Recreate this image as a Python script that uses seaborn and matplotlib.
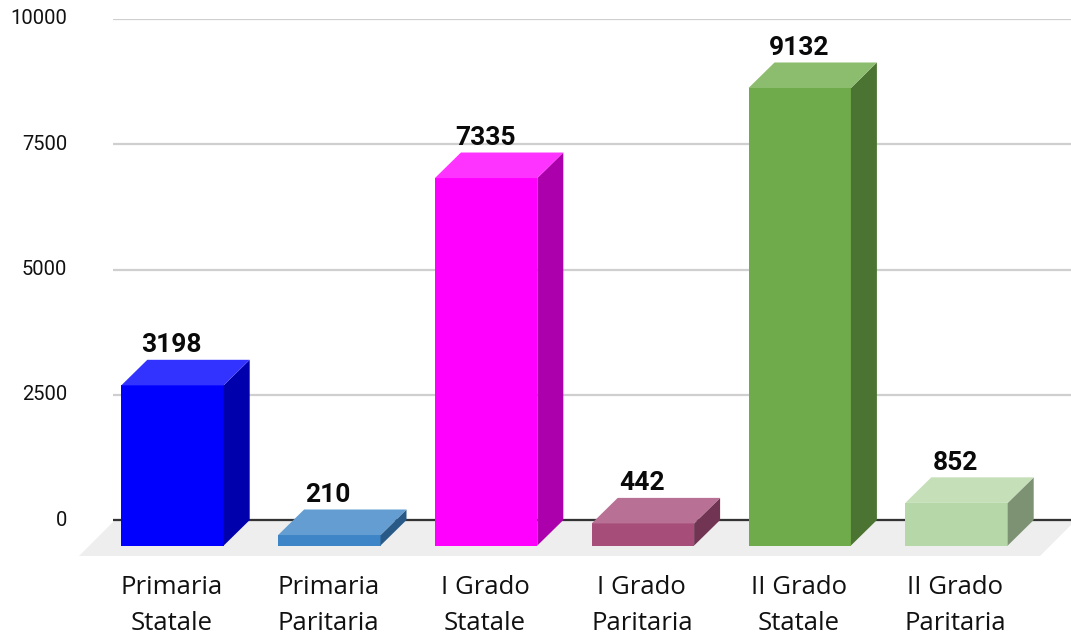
import matplotlib
matplotlib.use('Agg')
import matplotlib.pyplot as plt
import matplotlib.colors as mcolors
from matplotlib.transforms import ScaledTranslation
import seaborn as sns
import pandas as pd

categories = ["Primaria\nStatale", "Primaria\nParitaria", "I Grado\nStatale", "I Grado\nParitaria", "II Grado\nStatale", "II Grado\nParitaria"]
values = [3198, 210, 7335, 442, 9132, 852]
colors = ["#0000ff", "#3d85c6", "#ff00ff", "#a64d79", "#6fab4a", "#b6d7a8"]
yticks = [0, 2500, 5000, 7500, 10000]

sns.set_theme(style="white", rc={'figure.figsize': (10.71, 6.36), 'figure.dpi': 100})
plt.rcParams['font.family'] = ['Open Sans', 'DejaVu Sans']

# fake depth of the bars
step = 156.8
depth_x = 26 / step
depth_y = 510


def shade(color, factor):
    return tuple(c * factor for c in mcolors.to_rgb(color))


def tint(color, amount):
    return tuple(c + (1 - c) * amount for c in mcolors.to_rgb(color))


df = pd.DataFrame({"category": categories, "value": values})

fig = plt.figure()
ax = fig.add_axes([113 / 1071, 1 - 556 / 636, 958 / 1071, 537 / 636])
sns.barplot(data=df, x="category", y="value", hue="category", palette=colors, dodge=False,
            legend=False, width=102.4 / step, bottom=-depth_y, saturation=1, ax=ax, zorder=3,
            linewidth=0)

ax.set_xlim(-59.5 / step, 898.5 / step)
ax.set_ylim(-718, 10000)
sns.despine(ax=ax, left=True, bottom=True)
ax.set_xlabel("")
ax.set_ylabel("")

ax.set_yticks(yticks)
ax.grid(axis='y', color='#cfcfcf', lw=1.6, zorder=0)
ax.set_axisbelow(True)
ax.axhline(0, color='#333333', lw=1.6, zorder=1)
ax.tick_params(axis='y', length=0, pad=33, labelsize=14.5, labelfontfamily='Roboto', colors='#111111')
ax.tick_params(axis='x', length=0, pad=14, labelsize=18.5, colors='#111111')
left = ScaledTranslation(-1 / 100, 0, fig.dpi_scale_trans)
for lab in ax.get_xticklabels():
    lab.set_linespacing(1.54)
    lab.set_transform(lab.get_transform() + left)
up = ScaledTranslation(0, 2 / 100, fig.dpi_scale_trans)
for lab in ax.get_yticklabels():
    lab.set_transform(lab.get_transform() + up)

# floor
x0, x1 = -57.5 / step, 903.5 / step
ax.fill([x0 - 36 / step, x1 - 36 / step, x1, x0], [-718, -718, 0, 0], color='#eeeeee',
        lw=0, zorder=0.5, clip_on=False)

for bar, color, val in zip(ax.patches, colors, values):
    l = bar.get_x()
    r = l + bar.get_width()
    b = bar.get_y()
    t = b + bar.get_height()
    ax.fill([r, r + depth_x, r + depth_x, r], [b, b + depth_y, t + depth_y, t],
            color=shade(color, 0.68), lw=0, zorder=3)
    ax.fill([l, r, r + depth_x, l + depth_x], [t, t, t + depth_y, t + depth_y],
            color=tint(color, 0.2), lw=0, zorder=3)
    ax.annotate(str(val), ((l + r) / 2 - 1 / step, t + depth_y), xytext=(0, 2), textcoords='offset points',
                ha='center', va='bottom', fontsize=19, fontweight='bold', family='Roboto',
                color='#0a0a0a', zorder=4)

plt.savefig("out.png", dpi=100)
plt.close()
